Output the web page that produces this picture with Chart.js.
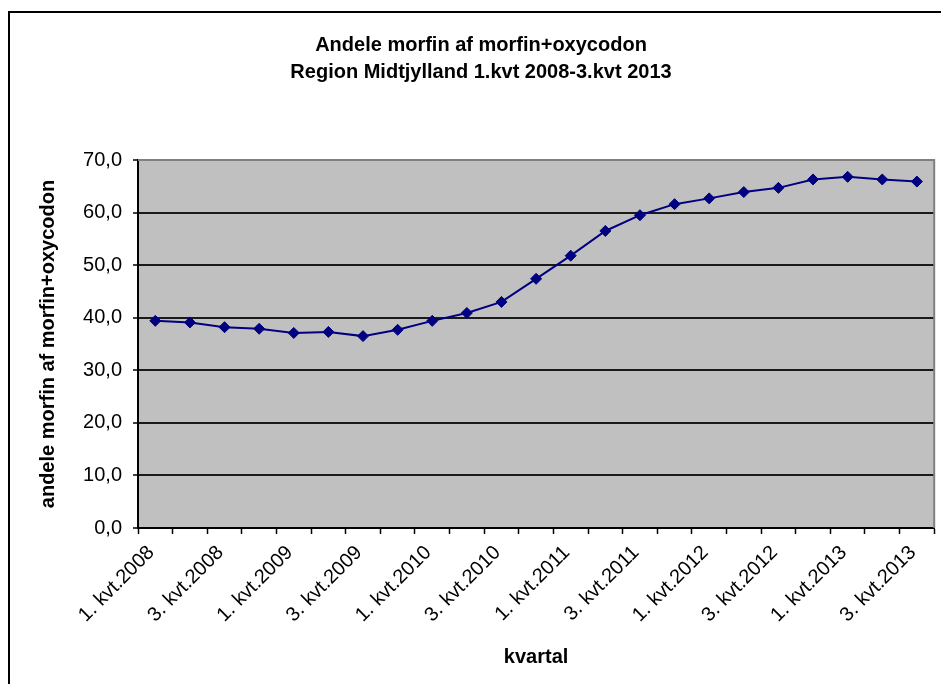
<!DOCTYPE html>
<html>
<head>
<meta charset="utf-8">
<script src="https://cdn.jsdelivr.net/npm/chart.js@4/dist/chart.umd.min.js"></script>
<style>
  html, body { margin: 0; padding: 0; background: #fff; }
  #c { display: block; }
</style>
</head>
<body>
<canvas id="c" width="941" height="684"></canvas>
<script>
// Quarters, 1st quarter 2008 to 3rd quarter 2013
const quarters = [
  '1. kvt.2008', '2. kvt.2008', '3. kvt.2008', '4. kvt.2008',
  '1. kvt.2009', '2. kvt.2009', '3. kvt.2009', '4. kvt.2009',
  '1. kvt.2010', '2. kvt.2010', '3. kvt.2010', '4. kvt.2010',
  '1. kvt.2011', '2. kvt.2011', '3. kvt.2011', '4. kvt.2011',
  '1. kvt.2012', '2. kvt.2012', '3. kvt.2012', '4. kvt.2012',
  '1. kvt.2013', '2. kvt.2013', '3. kvt.2013'
];

// Morphine share (%) of morphine + oxycodone
const morphineShare = [
  39.4, 39.1, 38.2, 37.9,
  37.1, 37.3, 36.5, 37.7,
  39.4, 40.9, 43.0, 47.4,
  51.8, 56.5, 59.5, 61.6,
  62.7, 63.9, 64.7, 66.3,
  66.8, 66.3, 65.9
];

// Value axis ticks
const yTicks = [0, 10, 20, 30, 40, 50, 60, 70];

const titleLines = ['Andele morfin af morfin+oxycodon', 'Region Midtjylland 1.kvt 2008-3.kvt 2013'];
const yTitle = 'andele morfin af morfin+oxycodon';
const xTitle = 'kvartal';

const FONT = 'Arial, "Liberation Sans", sans-serif';

// White page, outer frame and grey plot background
const framePlugin = {
  id: 'framePlugin',
  beforeDraw(chart) {
    const { ctx, chartArea: a } = chart;
    ctx.save();
    ctx.fillStyle = '#ffffff';
    ctx.fillRect(0, 0, chart.width, chart.height);
    ctx.fillStyle = '#C0C0C0';
    ctx.fillRect(a.left, a.top, a.right - a.left, a.bottom - a.top);
    ctx.strokeStyle = '#000000';
    ctx.lineWidth = 2;
    ctx.strokeRect(9, 12, chart.width + 40, chart.height + 40);
    ctx.restore();
  },
  beforeDatasetsDraw(chart) {
    const { ctx, chartArea: a } = chart;
    ctx.save();
    ctx.strokeStyle = '#808080';
    ctx.lineWidth = 2;
    ctx.beginPath();
    ctx.moveTo(a.left, a.top);
    ctx.lineTo(a.right, a.top);
    ctx.lineTo(a.right, a.bottom);
    ctx.stroke();
    ctx.restore();
  }
};

const fmt = v => v.toFixed(1).replace('.', ',');

new Chart(document.getElementById('c'), {
  type: 'line',
  data: {
    labels: quarters,
    datasets: [{
      data: morphineShare,
      borderColor: '#000080',
      backgroundColor: '#000080',
      borderWidth: 2,
      pointStyle: 'rectRot',
      pointRadius: 5.5,
      pointHoverRadius: 5.5,
      pointBackgroundColor: '#000080',
      pointBorderColor: '#000080',
      pointBorderWidth: 1,
      tension: 0,
      fill: false
    }]
  },
  options: {
    responsive: false,
    animation: false,
    events: [],
    layout: { padding: { left: 25, right: 4, top: 12, bottom: 0 } },
    plugins: {
      legend: { display: false },
      tooltip: { enabled: false },
      title: {
        display: true,
        text: titleLines,
        color: '#000',
        font: { family: FONT, size: 20, weight: 'bold', lineHeight: 1.35 },
        padding: { top: 19.5, bottom: 74.5 }
      }
    },
    scales: {
      x: {
        type: 'category',
        offset: true,
        grid: {
          offset: true,
          drawOnChartArea: false,
          drawTicks: true,
          tickLength: 6,
          tickColor: '#000',
          tickWidth: 1.5
        },
        border: { display: true, color: '#000', width: 2 },
        ticks: {
          autoSkip: false,
          maxRotation: 45,
          minRotation: 45,
          color: '#000',
          padding: 7,
          labelOffset: -4,
          font: { family: FONT, size: 20 },
          callback: function (value, index) {
            return index % 2 === 0 ? quarters[index] : '';
          }
        },
        title: {
          display: true,
          text: xTitle,
          color: '#000',
          font: { family: FONT, size: 20, weight: 'bold', lineHeight: 1.2 },
          padding: { top: 0, bottom: 15 }
        },
        afterFit(scale) { scale.height = 156; }
      },
      y: {
        type: 'linear',
        min: 0,
        max: 70,
        afterBuildTicks(scale) {
          scale.ticks = yTicks.map(v => ({ value: v }));
        },
        grid: {
          color: ctx => (ctx.tick && ctx.tick.value === 70) ? 'rgba(0,0,0,0)' : '#1a1a1a',
          lineWidth: 2,
          tickColor: '#000',
          tickLength: 5,
          tickWidth: 1.5,
          drawTicks: true
        },
        border: { display: true, color: '#000', width: 2 },
        ticks: {
          color: '#000',
          padding: 11,
          font: { family: FONT, size: 20 },
          callback: v => fmt(v)
        },
        title: {
          display: true,
          text: yTitle,
          color: '#000',
          font: { family: FONT, size: 20, weight: 'bold', lineHeight: 1.2 },
          padding: { top: 11, bottom: 0 }
        },
        afterFit(scale) { scale.width = 113; }
      }
    }
  },
  plugins: [framePlugin]
});
</script>
</body>
</html>
